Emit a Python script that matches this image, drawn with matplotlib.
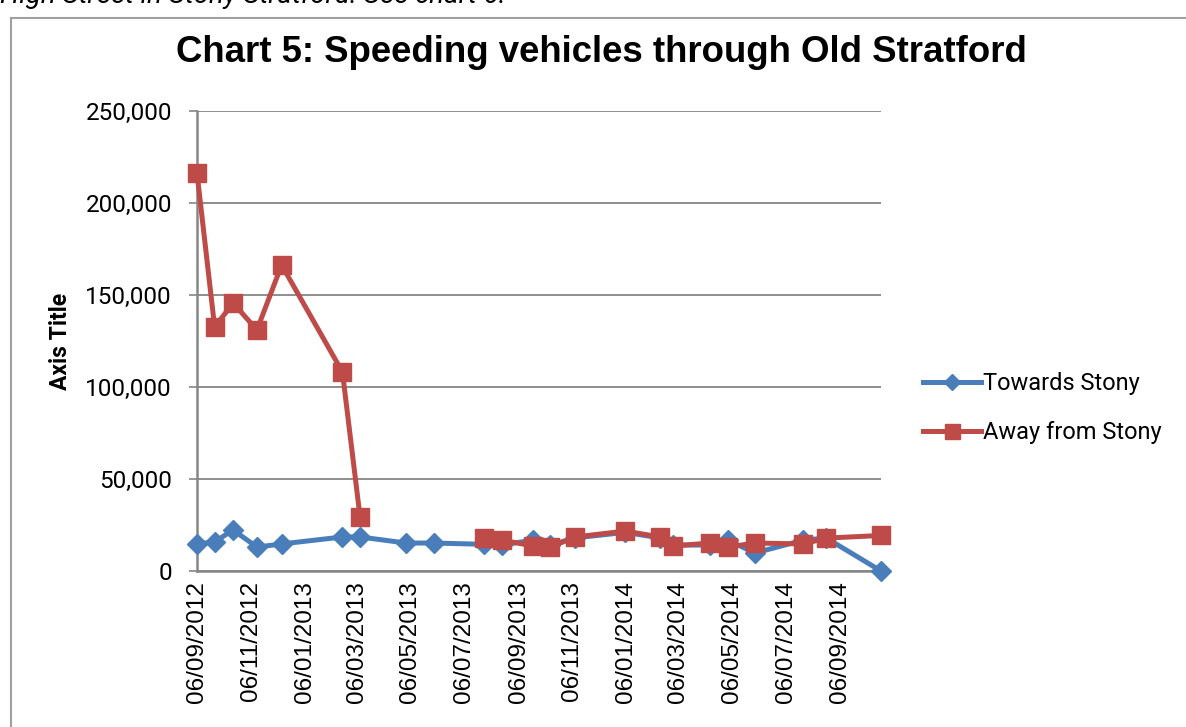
import numpy as np
import pandas as pd
import matplotlib as mpl
mpl.use('Agg')
import matplotlib.pyplot as plt
import matplotlib.dates as mdates
from matplotlib.lines import Line2D

# Data
dates = ['2012-09-06', '2012-09-26', '2012-10-17', '2012-11-13', '2012-12-11',
         '2013-02-18', '2013-03-10', '2013-05-01', '2013-06-02', '2013-07-29',
         '2013-08-18', '2013-09-22', '2013-10-12', '2013-11-09', '2014-01-05',
         '2014-02-13', '2014-02-28', '2014-04-11', '2014-05-01', '2014-06-01',
         '2014-07-26', '2014-08-21', '2014-10-22']
towards = [14700, 15800, 22300, 13000, 14700,
           18500, 18500, 15200, 15200, 14500,
           14100, 16800, 14100, 18000, 21000,
           18000, 14100, 14100, 16800, 9800,
           16800, 17900, 0]
away = [216300, 132600, 145600, 131000, 166300,
        108150, 29300, np.nan, np.nan, 17900,
        16800, 13600, 13000, 18500, 21700,
        18500, 13600, 15200, 13000, 15200,
        14700, 17900, 19300]
series_names = ['Towards Stony', 'Away from Stony']
tick_dates = ['2012-09-06', '2012-11-06', '2013-01-06', '2013-03-06', '2013-05-06',
              '2013-07-06', '2013-09-06', '2013-11-06', '2014-01-06', '2014-03-06',
              '2014-05-06', '2014-07-06', '2014-09-06']
yticks = [0, 50000, 100000, 150000, 200000, 250000]

x = pd.to_datetime(dates)

CAL = ['Roboto', 'Liberation Sans', 'DejaVu Sans']
ARIAL = ['Liberation Sans', 'DejaVu Sans']
BLUE = '#4a7ebb'
RED = '#be4b48'
GREY = '#868686'

W, H = 1186, 727
fg = plt.figure(figsize=(W / 100, H / 100), dpi=100)
fg.patch.set_facecolor('white')

# clipped text above the chart and the chart frame
fg.text(0.0, 1.0 + 5 / H, 'High Street in Stony Stratford. See chart 6.', ha='left', va='center',
        fontsize=20, style='italic', family=CAL)
fg.add_artist(Line2D([11 / W, 11 / W], [0, 1 - 18 / H], color='#a0a0a0', lw=1.5, transform=fg.transFigure))
fg.add_artist(Line2D([11 / W, 1], [1 - 18 / H, 1 - 18 / H], color='#a0a0a0', lw=1.5, transform=fg.transFigure))

left, right = 197 / W, 881 / W
bottom, top = 1 - 571 / H, 1 - 111 / H
ax = fg.add_axes([left, bottom, right - left, top - bottom])

ax.plot(x, towards, color=BLUE, lw=3.6, marker='D', ms=10, mec=BLUE, mfc=BLUE,
        clip_on=False, zorder=3, label=series_names[0])
ax.plot(x, away, color=RED, lw=3.6, marker='s', ms=13.5, mec=RED, mfc=RED,
        clip_on=False, zorder=4, label=series_names[1])

ax.set_xlim(x[0], x[-1])
ax.set_ylim(0, 250000)

ax.set_yticks(yticks)
ax.set_yticklabels(['{:,}'.format(v) for v in yticks], family=CAL, fontsize=17.5)
ax.set_xticks(pd.to_datetime(tick_dates))
ax.xaxis.set_major_formatter(mdates.DateFormatter('%d/%m/%Y'))
for lab in ax.get_xticklabels():
  lab.set_rotation(90)
  lab.set_fontsize(17.5)
  lab.set_family(ARIAL)

ax.tick_params(axis='x', length=0, pad=7)
ax.tick_params(axis='y', length=6, width=1.2, color=GREY, pad=12)
ax.grid(axis='y', color=GREY, lw=1.3)
ax.set_axisbelow(True)
for s in ['top', 'right']:
  ax.spines[s].set_visible(False)
for s in ['left', 'bottom']:
  ax.spines[s].set_color(GREY)
  ax.spines[s].set_linewidth(1.8)

ax.set_ylabel('Axis Title', fontsize=16.5, fontweight='bold', family=CAL)
ax.yaxis.set_label_coords(-0.183, 0.5)

fg.text(601 / W, 1 - 52 / H, 'Chart 5: Speeding vehicles through Old Stratford', ha='center', va='center',
        fontsize=26.4, fontweight='bold', family=ARIAL)

fg.legend(loc='center left', bbox_to_anchor=(902 / W, 1 - 408 / H), frameon=False,
          prop={'family': CAL, 'size': 17}, handlelength=2.45, handletextpad=0.1,
          labelspacing=1.1, markerscale=0.8)

fg.savefig('out.png', dpi=100)
